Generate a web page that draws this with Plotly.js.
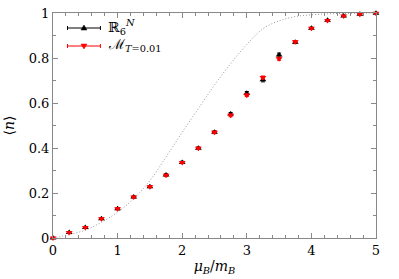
<!DOCTYPE html>
<html><head><meta charset="utf-8">
<script src="https://cdn.plot.ly/plotly-3.0.1.min.js"></script>
<style>html,body{margin:0;padding:0;background:#fff}#g{width:399px;height:279px}</style>
</head><body><div id="g"></div>
<script>
const muOverM = [0,0.25,0.5,0.75,1,1.25,1.5,1.75,2,2.25,2.5,2.75,3,3.25,3.5,3.75,4,4.25,4.5,4.75,5];
const nR6N = [0,0.024,0.047,0.086,0.13,0.182,0.228,0.28,0.336,0.399,0.47,0.551,0.643,0.703,0.813,0.87,0.932,0.968,0.987,0.994,0.999];
const errR6N = [0.002,0.003,0.003,0.004,0.004,0.004,0.004,0.005,0.005,0.005,0.006,0.007,0.008,0.009,0.009,0.006,0.004,0.003,0.003,0.002,0.001];
const nMT = [0,0.024,0.047,0.086,0.13,0.182,0.228,0.279,0.336,0.399,0.47,0.545,0.635,0.713,0.797,0.872,0.932,0.967,0.987,0.994,0.999];
const errMT = [0.002,0.003,0.003,0.003,0.004,0.004,0.004,0.004,0.004,0.005,0.005,0.006,0.006,0.007,0.007,0.005,0.004,0.003,0.002,0.002,0.001];
const curveX = [0,0.25,0.5,0.75,1,1.25,1.5,1.75,2,2.25,2.5,2.75,3,3.25,3.5,3.75,4,4.25,4.5,4.75,5];
const curveY = [0,0.015,0.035,0.07,0.115,0.175,0.255,0.36,0.47,0.575,0.68,0.775,0.86,0.93,0.965,0.984,0.992,0.996,0.998,0.999,1.0];
const legendLabels = ['\u211D<sub>6</sub><sup><i>N</i></sup>', '\u2133<sub><i>T</i>=0.01</sub>'];

const font = '"DejaVu Serif", "Liberation Serif", serif';
const traces = [
  {x: curveX, y: curveY, mode: 'lines', line: {color: '#999', width: 1, dash: '1px,2px', shape: 'spline'}, showlegend: false, hoverinfo: 'skip'},
  {x: muOverM, y: nR6N, mode: 'markers', name: legendLabels[0], showlegend: false,
   marker: {symbol: 'triangle-up', size: 6, color: '#000'}, cliponaxis: false,
   error_y: {type: 'data', array: errR6N, color: '#000', thickness: 1, width: 2}},
  {x: muOverM, y: nMT, mode: 'markers', name: legendLabels[1], showlegend: false,
   marker: {symbol: 'triangle-down', size: 6, color: '#ff0000'}, cliponaxis: false,
   error_y: {type: 'data', array: errMT, color: '#ff0000', thickness: 1, width: 2}}
];

const L = 52.5, R = 376, T = 13, B = 238;
const px = v => (v - L) / (R - L);
const py = v => (B - v) / (B - T);
const shapes = [];
const annotations = [];
const rows = [{y: 28, color: '#000', up: true}, {y: 46, color: '#ff0000', up: false}];
rows.forEach((r, i) => {
  shapes.push({type: 'line', xref: 'paper', yref: 'paper', x0: px(67), x1: px(100), y0: py(r.y), y1: py(r.y), line: {color: r.color, width: 1}});
  shapes.push({type: 'line', xref: 'paper', yref: 'paper', x0: px(67), x1: px(67), y0: py(r.y - 2), y1: py(r.y + 2), line: {color: r.color, width: 1}});
  shapes.push({type: 'line', xref: 'paper', yref: 'paper', x0: px(100), x1: px(100), y0: py(r.y - 2), y1: py(r.y + 2), line: {color: r.color, width: 1}});
  const cx = 83.5, cy = r.y;
  const p = r.up
    ? `M ${px(cx-3)} ${py(cy+2)} L ${px(cx+3)} ${py(cy+2)} L ${px(cx)} ${py(cy-3)} Z`
    : `M ${px(cx-3)} ${py(cy-2)} L ${px(cx+3)} ${py(cy-2)} L ${px(cx)} ${py(cy+3)} Z`;
  shapes.push({type: 'path', xref: 'paper', yref: 'paper', path: p, fillcolor: r.color, line: {color: r.color, width: 0.5}});
  annotations.push({xref: 'paper', yref: 'paper', x: px(106), y: py(r.y - 1), xanchor: 'left', yanchor: 'middle',
    text: legendLabels[i], showarrow: false, font: {family: font, size: 14, color: '#000'}});
});

const axisCommon = {
  showgrid: false, zeroline: false, showline: true, linecolor: '#888', linewidth: 1, mirror: 'allticks',
  ticks: 'inside', ticklen: 5, tickcolor: '#888', tickwidth: 1,
  tickfont: {family: font, size: 13, color: '#000'}
};
const layout = {
  width: 399, height: 279,
  margin: {l: 52.5, r: 23, t: 13, b: 41, pad: 0},
  paper_bgcolor: '#fff', plot_bgcolor: '#fff',
  font: {family: font, size: 13},
  xaxis: Object.assign({}, axisCommon, {range: [0, 5], dtick: 1, tick0: 0,
    minor: {dtick: 0.2, ticklen: 3, tickcolor: '#888', ticks: 'inside'},
    title: {text: '<i>\u03BC<sub>B</sub></i>/<i>m<sub>B</sub></i>', font: {family: font, size: 14, color: '#000'}, standoff: 4}}),
  yaxis: Object.assign({}, axisCommon, {range: [0, 1], dtick: 0.2, tick0: 0,
    minor: {dtick: 0.1, ticklen: 3, tickcolor: '#888', ticks: 'inside'},
    title: {text: '\u27E8<i>n</i>\u27E9', font: {family: font, size: 14, color: '#000'}, standoff: 10}}),
  shapes: shapes,
  annotations: annotations,
  showlegend: false
};
Plotly.newPlot('g', traces, layout, {displayModeBar: false});
</script></body></html>
